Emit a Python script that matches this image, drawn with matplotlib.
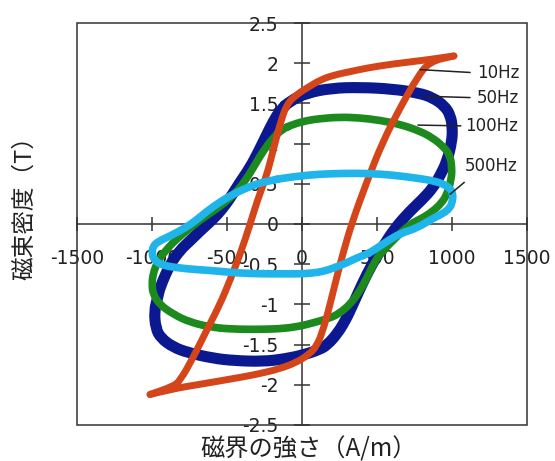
import matplotlib.pyplot as plt
from matplotlib.patches import Rectangle, PathPatch
from matplotlib.path import Path

plt.rcParams['font.family'] = ['DejaVu Sans']

# hysteresis loops (H in A/m, B in T)
# 10Hz: descending and ascending branches between the two tips
h_10_down = [1013, 833, 600, 433, 333, 207, 120, 40, -36, -102, -147, -193, -236, -300, -345,
             -413, -480, -547, -635, -725, -813, -860, -1013]
b_10_down = [2.09, 2.04, 1.99, 1.94, 1.90, 1.85, 1.79, 1.70, 1.61, 1.49, 1.24, 0.91, 0.60, 0.28, 0.0,
             -0.38, -0.70, -1.0, -1.32, -1.66, -1.95, -2.02, -2.12]
h_10_up = [-1013, -860, -700, -480, -300, -147, -36, 40, 100, 147, 187, 236, 273, 330,
           433, 540, 653, 767, 850, 1013]
b_10_up = [-2.12, -2.05, -2.0, -1.93, -1.87, -1.80, -1.72, -1.63, -1.52, -1.28, -1.0, -0.63, -0.37, 0.0,
           0.53, 1.03, 1.44, 1.82, 2.02, 2.09]

# 50Hz, 100Hz, 500Hz: closed loops
h_50 = [-80, 31, 200, 387, 600, 780, 873, 950, 990, 1003, 1000, 967, 920, 873, 800, 720, 620, 540, 467,
        400, 340, 290, 233, 170, 120, 7, -120, -260, -450, -593, -760, -860, -940, -975, -985, -960,
        -947, -880, -810, -747, -670, -593, -530, -480, -420, -347, -290, -233, -190, -147]
b_50 = [1.53, 1.63, 1.69, 1.70, 1.68, 1.63, 1.57, 1.47, 1.35, 1.20, 1.03, 0.78, 0.60, 0.45, 0.30, 0.16, -0.05, -0.28, -0.50,
        -0.75, -1.0, -1.20, -1.37, -1.50, -1.56, -1.63, -1.68, -1.71, -1.70, -1.67, -1.60, -1.53, -1.42, -1.30, -1.08, -0.90,
        -0.79, -0.50, -0.32, -0.21, -0.07, 0.06, 0.19, 0.32, 0.50, 0.70, 0.90, 1.12, 1.28, 1.41]

h_100 = [-60, 40, 120, 250, 387, 520, 653, 780, 873, 950, 987, 1000, 995, 967, 930, 873, 800, 720, 620,
         520, 470, 433, 380, 320, 250, 187, 53, -13, -120, -260, -430, -593, -750, -860, -950, -993,
         -1000, -993, -965, -927, -860, -793, -680, -560, -480, -413, -350, -300, -250, -193, -130]
b_100 = [1.24, 1.29, 1.31, 1.33, 1.32, 1.29, 1.24, 1.16, 1.07, 0.95, 0.85, 0.70, 0.55, 0.37, 0.26, 0.16, 0.07, 0.0, -0.18,
         -0.37, -0.52, -0.67, -0.85, -1.0, -1.11, -1.17, -1.24, -1.27, -1.30, -1.31, -1.31, -1.29, -1.22, -1.12, -1.0, -0.87,
         -0.75, -0.62, -0.48, -0.37, -0.23, -0.12, 0.05, 0.20, 0.32, 0.45, 0.62, 0.78, 0.93, 1.07, 1.18]

h_500 = [-127, 0, 120, 280, 433, 600, 767, 870, 940, 990, 1007, 1003, 987, 940, 873, 767, 653, 580, 500,
         440, 367, 290, 207, 140, 73, -13, -130, -260, -430, -593, -760, -927, -985, -1000, -993, -950,
         -880, -780, -710, -633, -550, -460, -380, -300, -210]
b_500 = [0.57, 0.60, 0.62, 0.63, 0.63, 0.61, 0.57, 0.54, 0.50, 0.44, 0.37, 0.28, 0.20, 0.13, 0.07, -0.05, -0.12, -0.20, -0.30,
         -0.37, -0.42, -0.49, -0.55, -0.59, -0.61, -0.62, -0.62, -0.62, -0.61, -0.58, -0.56, -0.52, -0.45, -0.37, -0.27, -0.21,
         -0.15, -0.05, 0.04, 0.16, 0.27, 0.37, 0.44, 0.50, 0.54]

x_ticks = [-1500, -1000, -500, 0, 500, 1000, 1500]
y_ticks = [-2.5, -2, -1.5, -1, -0.5, 0, 0.5, 1, 1.5, 2, 2.5]
y_tick_labels = ['-2.5', '-2', '-1.5', '-1', '-0.5', '0', '0.5', '1', '1.5', '2', '2.5']


def mid(a, b):
    return ((a[0] + b[0]) / 2, (a[1] + b[1]) / 2)


def loop_path(xs, ys):
    # quadratic curves through the midpoints of the read points, closed
    pts = list(zip(xs, ys))
    n = len(pts)
    verts = [mid(pts[-1], pts[0])]
    codes = [Path.MOVETO]
    for i in range(n):
        verts += [pts[i], mid(pts[i], pts[(i + 1) % n])]
        codes += [Path.CURVE3, Path.CURVE3]
    return Path(verts, codes)


def branch_path(xs, ys):
    # same smoothing for an open branch, keeping both ends sharp
    pts = list(zip(xs, ys))
    verts = [pts[0]]
    codes = [Path.MOVETO]
    for i in range(1, len(pts) - 1):
        verts += [pts[i], mid(pts[i], pts[i + 1])]
        codes += [Path.CURVE3, Path.CURVE3]
    verts.append(pts[-1])
    codes.append(Path.LINETO)
    return Path(verts, codes)


fig = plt.figure(figsize=(5.55, 4.61), dpi=100)
ax = fig.add_axes([0.1387, 0.0781, 0.8108, 0.872])

patch_kw = dict(fill=False, joinstyle='round', capstyle='round')
ax.add_patch(PathPatch(loop_path(h_50, b_50), edgecolor='#0c1890', lw=8, zorder=3, **patch_kw))
ax.add_patch(PathPatch(loop_path(h_100, b_100), edgecolor='#1d8a1d', lw=5.5, zorder=4, **patch_kw))
ax.add_patch(PathPatch(branch_path(h_10_down, b_10_down), edgecolor='#d4451a', lw=5, zorder=5, **patch_kw))
ax.add_patch(PathPatch(branch_path(h_10_up, b_10_up), edgecolor='#d4451a', lw=5, zorder=5, **patch_kw))
ax.add_patch(PathPatch(loop_path(h_500, b_500), edgecolor='#1fb5ea', lw=5.5, zorder=6, **patch_kw))

ax.set_xlim(-1500, 1500)
ax.set_ylim(-2.5, 2.5)

# axes cross at the origin, frame drawn separately
for side in ('top', 'right'):
    ax.spines[side].set_visible(False)
ax.spines['left'].set_position(('data', 0))
ax.spines['bottom'].set_position(('data', 0))
for side in ('left', 'bottom'):
    ax.spines[side].set_color('#333333')
    ax.spines[side].set_linewidth(1.1)
ax.add_patch(Rectangle((0, 0), 1, 1, transform=ax.transAxes, fill=False,
                       edgecolor='#333333', lw=1.1, zorder=2, clip_on=False))

ax.set_xticks(x_ticks)
ax.set_xticklabels([str(v) for v in x_ticks])
ax.set_yticks(y_ticks)
ax.set_yticklabels(y_tick_labels)
ax.tick_params(axis='x', direction='inout', length=10, width=1.1, color='#333333',
               pad=13, labelsize=13.5, labelcolor='#222222')
ax.tick_params(axis='y', direction='inout', length=11.5, width=1.1, color='#333333',
               pad=11, labelsize=13.5, labelcolor='#222222')

# leader-line labels for each frequency
ann_kw = dict(fontsize=12, color='#222222', va='center', ha='left', zorder=7)
ax.annotate('10Hz', xy=(787, 1.92), xytext=(1167, 1.88),
            arrowprops=dict(arrowstyle='-', color='#222222', lw=1.1, shrinkA=3, shrinkB=0, relpos=(0, 0.5)), **ann_kw)
ax.annotate('50Hz', xy=(807, 1.59), xytext=(1167, 1.57),
            arrowprops=dict(arrowstyle='-', color='#222222', lw=1.1, shrinkA=3, shrinkB=0, relpos=(0, 0.5)), **ann_kw)
ax.annotate('100Hz', xy=(773, 1.23), xytext=(1087, 1.22),
            arrowprops=dict(arrowstyle='-', color='#222222', lw=1.1, shrinkA=1, shrinkB=0, relpos=(0, 0.5)), **ann_kw)
ax.annotate('500Hz', xy=(987, 0.37), xytext=(1087, 0.72),
            arrowprops=dict(arrowstyle='-', color='#222222', lw=1.1, shrinkA=5, shrinkB=0, relpos=(0.15, 0)), **ann_kw)

fig.text(0.045, 1 - 202 / 461, '磁束密度（T）', rotation=90, ha='center', va='center',
         fontsize=17, color='#222222', family=['Noto Sans CJK JP', 'DejaVu Sans'])
fig.text(309 / 555, 1 - 449 / 461, '磁界の強さ（A/m）', ha='center', va='center',
         fontsize=17.5, color='#222222', family=['Noto Sans CJK JP', 'DejaVu Sans'])

fig.savefig('out.png', dpi=100)
